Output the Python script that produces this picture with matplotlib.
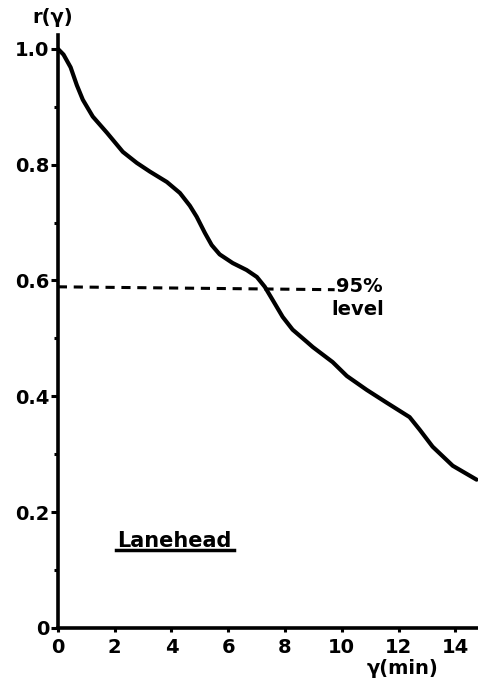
import matplotlib.pyplot as plt
from matplotlib.ticker import MultipleLocator

# autocorrelation r(tau)
tau = [0.0, 0.2, 0.45, 0.67, 0.88, 1.23, 1.73, 2.29, 2.78, 3.24, 3.84, 4.30,
       4.65, 4.89, 5.18, 5.42, 5.70, 6.16, 6.65, 7.01, 7.29, 7.57, 7.92, 8.27,
       8.77, 8.98, 9.68, 10.18, 10.88, 11.58, 12.39, 12.75, 13.20, 13.91, 14.75]
r = [1.0, 0.99, 0.968, 0.937, 0.912, 0.883, 0.855, 0.822, 0.803, 0.788, 0.770,
     0.751, 0.729, 0.710, 0.682, 0.661, 0.645, 0.630, 0.618, 0.606, 0.589,
     0.566, 0.537, 0.515, 0.494, 0.485, 0.459, 0.435, 0.411, 0.389, 0.364,
     0.342, 0.313, 0.280, 0.256]
level_x = [0.0, 9.75]
level_y = [0.589, 0.584]
xticks = [0, 2, 4, 6, 8, 10, 12, 14]
yticks = [0, 0.2, 0.4, 0.6, 0.8, 1.0]
ytick_labels = ["0", "0.2", "0.4", "0.6", "0.8", "1.0"]

plt.rcParams['font.family'] = ['DejaVu Sans']
plt.rcParams['font.weight'] = 'bold'

fig = plt.figure(figsize=(4.78, 6.84), dpi=100)
ax = fig.add_axes([0.121, 0.082, 0.879, 0.867])

ax.plot(tau, r, color="black", lw=3.0, solid_capstyle="round",
        solid_joinstyle="round")
ax.plot(level_x, level_y, color="black", lw=2.2, linestyle=(0, (3, 2.2)))

ax.set_xlim(0, 14.8)
ax.set_ylim(0, 1.024)
ax.set_xticks(xticks)
ax.set_xticklabels([str(t) for t in xticks])
ax.set_yticks(yticks)
ax.set_yticklabels(ytick_labels)
ax.yaxis.set_minor_locator(MultipleLocator(0.1))

for s in ["top", "right"]:
    ax.spines[s].set_visible(False)
for s in ["left", "bottom"]:
    ax.spines[s].set_linewidth(2.6)

ax.tick_params(axis="y", which="major", direction="out", length=5, width=2.2,
               labelsize=14, pad=1)
ax.tick_params(axis="y", which="minor", direction="out", length=3, width=2.2)
ax.tick_params(axis="x", which="major", direction="out", length=3, width=2.2,
               labelsize=14, pad=4)

ax.text(-0.012, 1.03, "r(γ)", transform=ax.transAxes, fontsize=14,
        fontweight="bold", ha="center", va="center")
ax.text(0.82, -0.068, "γ(min)", transform=ax.transAxes, fontsize=14,
        fontweight="bold", ha="center", va="center")
ax.text(9.8, 0.59, "95%", fontsize=14, fontweight="bold", ha="left", va="center")
ax.text(9.65, 0.55, "level", fontsize=14, fontweight="bold", ha="left", va="center")
ax.text(2.1, 0.15, "Lanehead", fontsize=15, fontweight="bold", ha="left",
        va="center")
ax.plot([2.05, 6.2], [0.135, 0.135], color="black", lw=2.5)

fig.savefig("out.png", dpi=100)
